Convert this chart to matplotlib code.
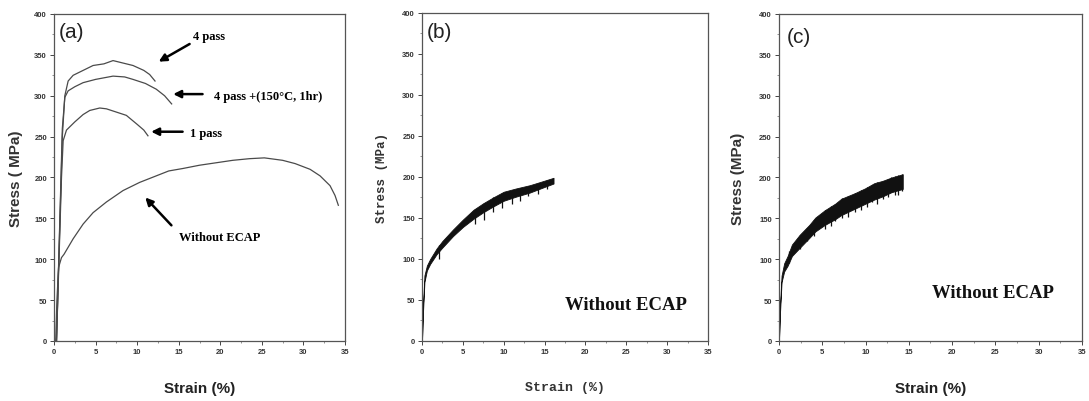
import numpy as np
import matplotlib.pyplot as plt
from matplotlib.ticker import MultipleLocator

# ---- panel (a): tensile curves ----
pass4_x = [0.3, 1.0, 1.3, 1.7, 2.3, 3.5, 4.7, 6.0, 7.1, 8.3, 9.5, 10.8, 11.5, 12.15]
pass4_y = [0, 250, 300, 318, 325, 331, 337, 339, 343, 340, 337, 331, 326, 318]

pass4ht_x = [0.3, 1.0, 1.3, 1.7, 2.5, 3.5, 5.0, 7.1, 8.5, 9.5, 11.0, 12.3, 13.3, 14.15]
pass4ht_y = [0, 260, 298, 306, 311, 316, 320, 324, 323, 320, 315, 308, 300, 290]

pass1_x = [0.3, 0.9, 1.1, 1.5, 2.5, 3.5, 4.3, 5.5, 6.3, 7.5, 8.7, 10.0, 10.8, 11.3]
pass1_y = [0, 200, 245, 258, 268, 277, 282, 285, 284, 280, 276, 265, 258, 251]

noecap_x = [0.2, 0.35, 0.55, 0.9, 1.2, 2.3, 3.5, 4.7, 6.3, 8.3, 10.3, 12.3, 13.8, 15.5,
            17.5, 19.5, 21.5, 23.5, 25.3, 27.5, 29.0, 30.8, 32.0, 33.2, 33.8, 34.2]
noecap_y = [0, 50, 90, 102, 106, 125, 143, 157, 170, 184, 194, 202, 208, 211,
            215, 218, 221, 223, 224, 221, 217, 210, 202, 190, 178, 166]

# ---- panel (b): serrated curve, band edges + drops ----
b_x = [0, 0.1, 0.3, 0.6, 1.0, 1.8, 2.5, 3.8, 5.0, 6.3, 7.5, 8.7, 10.0, 11.5, 13.2, 14.5, 16.1]
b_upper = [0, 40, 80, 92, 100, 113, 122, 136, 148, 160, 168, 175, 182, 186, 190, 194, 199]
b_lower = [0, 30, 72, 86, 94, 106, 114, 128, 139, 149, 157, 164, 171, 176, 181, 186, 192]
b_drop_x = [2.1, 6.5, 7.6, 8.7, 9.8, 11.0, 12.0, 13.0, 14.2, 15.3]
b_drop_y = [100, 143, 147, 157, 162, 167, 171, 177, 179, 185]

# ---- panel (c) ----
c_x = [0, 0.1, 0.3, 0.6, 1.0, 1.5, 2.4, 3.5, 4.2, 5.3, 6.5, 7.2, 8.8, 10.0, 11.0, 12.0, 13.0, 14.3]
c_upper = [0, 40, 80, 95, 104, 118, 130, 142, 151, 160, 168, 174, 181, 187, 193, 196, 200, 204]
c_lower = [0, 30, 72, 85, 92, 104, 114, 126, 134, 142, 149, 154, 162, 168, 173, 177, 182, 186]
c_drop_x = [1.2, 2.4, 3.2, 4.0, 5.3, 6.0, 6.5, 7.3, 8.0, 8.8, 9.5, 10.2, 10.7, 11.3,
            12.0, 12.6, 13.0, 13.4, 13.8, 14.2]
c_drop_y = [96, 112, 122, 128, 137, 141, 147, 150, 152, 158, 160, 164, 170, 168,
            174, 176, 182, 178, 178, 183]

x_ticks = [0, 5, 10, 15, 20, 25, 30, 35]
y_ticks = [0, 50, 100, 150, 200, 250, 300, 350, 400]

NARROW = ['Liberation Sans Narrow', 'Liberation Sans', 'DejaVu Sans']
SERIF = ['Liberation Serif', 'DejaVu Serif']

fig = plt.figure(figsize=(10.89, 4.02), dpi=100)
ax_a = fig.add_axes([0.0496, 0.1493, 0.2672, 0.8134])
ax_b = fig.add_axes([0.3875, 0.1493, 0.2626, 0.8159])
ax_c = fig.add_axes([0.7153, 0.1493, 0.2782, 0.8134])


def style_axes(ax):
    ax.set_xlim(0, 35)
    ax.set_ylim(0, 400)
    ax.set_xticks(x_ticks)
    ax.set_yticks(y_ticks)
    ax.xaxis.set_minor_locator(MultipleLocator(2.5))
    ax.yaxis.set_minor_locator(MultipleLocator(25))
    ax.tick_params(which='major', direction='out', length=3, width=0.7,
                   color='#444444', pad=2, labelsize=5.5, labelcolor='#333333')
    ax.tick_params(which='minor', direction='out', length=1.5, width=0.5, color='#666666')
    for lab in ax.get_xticklabels() + ax.get_yticklabels():
        lab.set_family(NARROW)
        lab.set_fontweight('bold')
    for sp in ax.spines.values():
        sp.set_linewidth(0.9)
        sp.set_color('#555555')


for ax in (ax_a, ax_b, ax_c):
    style_axes(ax)

# (a)
curve_kw = dict(color='#4a4a4a', lw=0.9)
ax_a.plot(pass4_x, pass4_y, **curve_kw)
ax_a.plot(pass4ht_x, pass4ht_y, **curve_kw)
ax_a.plot(pass1_x, pass1_y, **curve_kw)
ax_a.plot(noecap_x, noecap_y, **curve_kw)

arrow_kw = dict(arrowstyle='-|>', color='black', lw=1.8, mutation_scale=11)
note_kw = dict(family=SERIF, fontweight='bold', fontsize=9, va='center', ha='left')
ax_a.annotate('', xy=(12.3, 340), xytext=(16.6, 365), arrowprops=arrow_kw)
ax_a.text(16.7, 373, '4 pass', **note_kw)
ax_a.annotate('', xy=(14.0, 302), xytext=(18.2, 302), arrowprops=arrow_kw)
ax_a.text(19.2, 300, '4 pass +(150°C, 1hr)', **note_kw)
ax_a.annotate('', xy=(11.35, 256), xytext=(15.8, 256), arrowprops=arrow_kw)
ax_a.text(16.3, 255, '1 pass', **note_kw)
ax_a.annotate('', xy=(10.75, 178), xytext=(14.35, 139), arrowprops=arrow_kw)
ax_a.text(15.0, 127, 'Without ECAP', **note_kw)

ax_a.text(0.6, 378, '(a)', family=NARROW, fontsize=15, va='center', ha='left', color='#222222')
ax_a.set_ylabel('Stress ( MPa)', family=['Liberation Sans', 'DejaVu Sans'],
                fontweight='bold', fontsize=11, color='#333333', labelpad=8)
ax_a.set_xlabel('Strain (%)', family=NARROW, fontweight='bold', fontsize=11,
                color='#222222', labelpad=19)

# (b)
ax_b.fill_between(b_x, b_lower, b_upper, color='#111111', lw=0.6, edgecolor='#111111')
ax_b.vlines(b_drop_x, b_drop_y, np.interp(b_drop_x, b_x, b_upper), color='#111111', lw=0.9)
ax_b.text(0.6, 378, '(b)', family=NARROW, fontsize=15, va='center', ha='left', color='#222222')
ax_b.text(17.5, 45, 'Without ECAP', family=SERIF, fontweight='bold', fontsize=13.5,
          va='center', ha='left', color='#111111')
ax_b.set_ylabel('Stress (MPa)', family=['Liberation Mono', 'DejaVu Sans Mono'],
                fontweight='bold', fontsize=9, color='#333333', labelpad=10)
ax_b.set_xlabel('Strain (%)', family=['Liberation Mono', 'DejaVu Sans Mono'],
                fontweight='bold', fontsize=9.5, color='#333333', labelpad=19)

# (c)
ax_c.fill_between(c_x, c_lower, c_upper, color='#111111', lw=0.6, edgecolor='#111111')
ax_c.vlines(c_drop_x, c_drop_y, np.interp(c_drop_x, c_x, c_upper), color='#111111', lw=0.9)
ax_c.text(0.9, 373, '(c)', family=NARROW, fontsize=15, va='center', ha='left', color='#222222')
ax_c.text(17.7, 59, 'Without ECAP', family=SERIF, fontweight='bold', fontsize=13.5,
          va='center', ha='left', color='#111111')
ax_c.set_ylabel('Stress (MPa)', family=['Liberation Sans', 'DejaVu Sans'],
                fontweight='bold', fontsize=11, color='#333333', labelpad=10)
ax_c.set_xlabel('Strain (%)', family=NARROW, fontweight='bold', fontsize=11,
                color='#222222', labelpad=19)

fig.savefig('out.png', dpi=100)
